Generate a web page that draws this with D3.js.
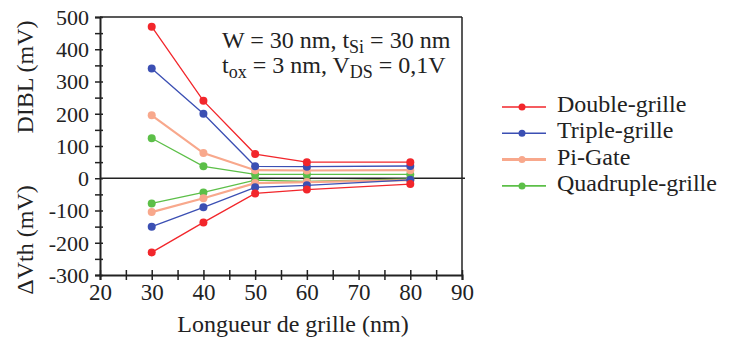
<!DOCTYPE html>
<html><head><meta charset="utf-8">
<script src="https://cdn.jsdelivr.net/npm/d3@7"></script>
<style>body{margin:0;background:#fff}svg{display:block}svg text{font-family:'Liberation Serif','DejaVu Serif',serif !important;fill:#222}</style>
</head><body>
<svg id="c" width="730" height="342"></svg>
<script>
const lengths = [30, 40, 50, 60, 80];
const seriesNames = ["Double-grille", "Triple-grille", "Pi-Gate", "Quadruple-grille"];
const seriesColors = ["#f2262b", "#3b4fb3", "#f8a88c", "#5cbf48"];
const dibl = [
  [470, 240, 75, 50, 50],
  [340, 200, 37, 36, 38],
  [195, 78, 25, 24, 25],
  [124, 37, 12, 12, 12]
];
const dvth = [
  [-230, -137, -47, -35, -18],
  [-150, -90, -28, -22, -5],
  [-105, -62, -15, -12, -6],
  [-78, -44, -6, -10, -2]
];
const xTicks = [20, 30, 40, 50, 60, 70, 80, 90];
const yTicks = [-300, -200, -100, 0, 100, 200, 300, 400, 500];

const svg = d3.select("#c");
const x = d3.scaleLinear().domain([20, 90]).range([100, 462]);
const y = d3.scaleLinear().domain([-300, 500]).range([275, 17]);

svg.append("line").attr("x1", x(20)).attr("x2", x(90)).attr("y1", y(500)).attr("y2", y(500)).attr("stroke", "#222").attr("stroke-width", 1.5);
svg.append("line").attr("x1", x(90)).attr("x2", x(90)).attr("y1", y(500)).attr("y2", y(-300)).attr("stroke", "#222").attr("stroke-width", 1.5);
svg.append("line").attr("x1", x(20)).attr("x2", x(90) + 3).attr("y1", y(0)).attr("y2", y(0)).attr("stroke", "#222").attr("stroke-width", 1.5);

const ya = svg.append("g").attr("transform", `translate(${x(20)},0)`)
  .call(d3.axisLeft(y).tickValues(d3.range(-300, 501, 50)).tickSize(5).tickFormat(d => yTicks.includes(d) ? String(d) : ""));
ya.attr("font-family", null);
ya.select(".domain").attr("stroke", "#222").attr("stroke-width", 2);
ya.selectAll(".tick line").attr("x1", 3).attr("stroke", "#222").attr("stroke-width", 1.5);
ya.selectAll(".tick text").attr("font-size", 22).attr("x", -11).attr("dy", "0.34em").attr("fill", "#222");

const xa = svg.append("g").attr("transform", `translate(0,${y(-300)})`)
  .call(d3.axisBottom(x).tickValues(d3.range(20, 91, 5)).tickSize(5).tickFormat(d => xTicks.includes(d) ? String(d) : ""));
xa.attr("font-family", null);
xa.select(".domain").attr("stroke", "#222").attr("stroke-width", 2);
xa.selectAll(".tick line").attr("y1", -5).attr("stroke", "#222").attr("stroke-width", 1.5);
xa.selectAll(".tick text").attr("font-size", 23).attr("y", 9).attr("fill", "#222");

svg.append("text").attr("transform", `translate(25,77) rotate(-90)`).attr("text-anchor", "middle").attr("dy", "0.35em").attr("font-size", 24).text("DIBL (mV)");
svg.append("text").attr("transform", `translate(25,240) rotate(-90)`).attr("text-anchor", "middle").attr("dy", "0.35em").attr("font-size", 24).text("ΔVth (mV)");
svg.append("text").attr("x", 293).attr("y", 332).attr("text-anchor", "middle").attr("font-size", 24).text("Longueur de grille (nm)");

const a1 = svg.append("text").attr("x", 222).attr("y", 48).attr("font-size", 24);
a1.append("tspan").text("W = 30 nm, t");
a1.append("tspan").attr("font-size", 18).attr("dy", 5).text("Si");
a1.append("tspan").attr("dy", -5).text(" = 30 nm");
const a2 = svg.append("text").attr("x", 222).attr("y", 73).attr("font-size", 24);
a2.append("tspan").text("t");
a2.append("tspan").attr("font-size", 18).attr("dy", 5).text("ox");
a2.append("tspan").attr("dy", -5).text(" = 3 nm, V");
a2.append("tspan").attr("font-size", 18).attr("dy", 5).text("DS");
a2.append("tspan").attr("dy", -5).text(" = 0,1V");

const line = d3.line().x((d, i) => x(lengths[i])).y(d => y(d));
const widths = [1.3, 1.3, 2.2, 1.3];
const order = [3, 2, 1, 0];
order.forEach(s => {
  [dibl[s], dvth[s]].forEach(vals => {
    svg.append("path").attr("d", line(vals)).attr("fill", "none").attr("stroke", seriesColors[s]).attr("stroke-width", widths[s]);
    svg.selectAll(null).data(vals).enter().append("circle")
      .attr("cx", (d, i) => x(lengths[i])).attr("cy", d => y(d)).attr("r", 4).attr("fill", seriesColors[s]);
  });
});

const lg = svg.append("g");
seriesNames.forEach((n, i) => {
  const yy = 107 + i * 26.3;
  lg.append("line").attr("x1", 502).attr("x2", 546).attr("y1", yy).attr("y2", yy).attr("stroke", seriesColors[i]).attr("stroke-width", i === 2 ? 3 : 1.6);
  lg.append("circle").attr("cx", 522).attr("cy", yy).attr("r", 3.5).attr("fill", seriesColors[i]);
  lg.append("text").attr("x", 557).attr("y", yy + 5).attr("font-size", 24).text(n);
});
</script>
</body></html>
